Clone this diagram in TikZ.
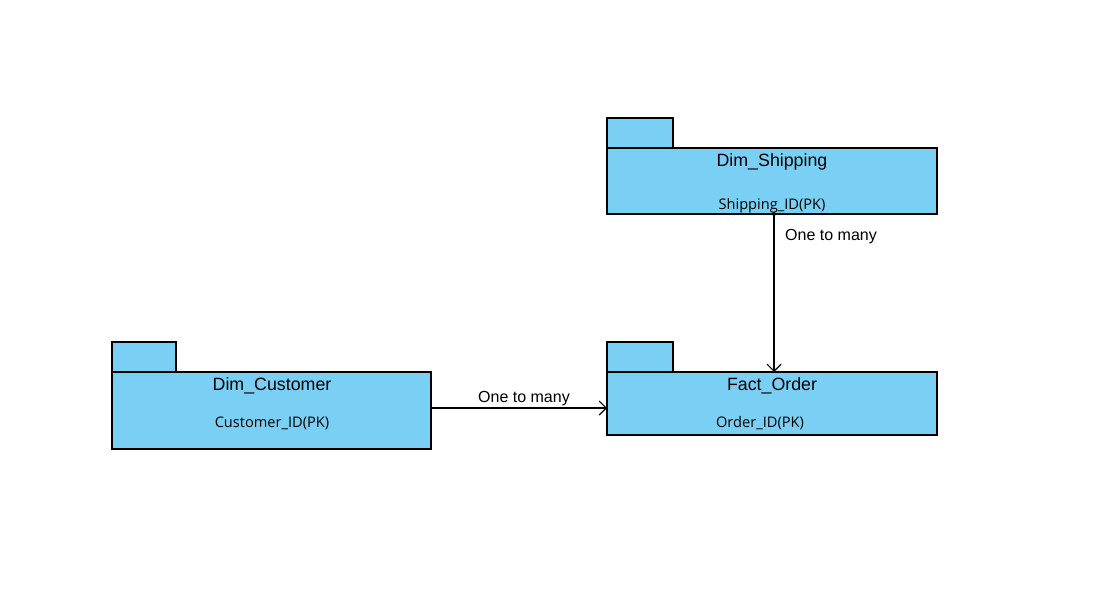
\documentclass[tikz,border=0pt]{standalone}
\usepackage{fontspec}
\setmainfont{Liberation Sans}
\newfontfamily\attrfont{Open Sans}
\usetikzlibrary{arrows.meta}
\definecolor{pkgfill}{HTML}{7ACFF4}
\tikzset{
  pkg/.style={draw=black, fill=pkgfill, line width=1.2pt},
  ttl/.style={font=\fontsize{17.8}{20}\selectfont, inner sep=0pt},
  attr/.style={font=\attrfont\fontsize{14.6}{17}\selectfont, inner sep=0pt},
  lbl/.style={font=\fontsize{16}{19}\selectfont, inner sep=0pt},
  conn/.style={draw=black, line width=1.1pt, -{Straight Barb[length=7pt,width=14pt,line width=1.1pt]}}
}
\begin{document}
\begin{tikzpicture}[x=1pt,y=-1pt]
\useasboundingbox (0,0) rectangle (1111,595);
% Dim_Shipping
\draw[pkg] (607,118) rectangle (673,148);
\draw[pkg] (607,148) rectangle (937,214);
\node[ttl] (shipT) at (772,162) {Dim\_Shipping};
\node[attr] (shipA) at (772,206) {Shipping\_ID(PK)};
\coordinate (shipB) at (774,214);
% Fact_Order
\draw[pkg] (607,342) rectangle (673,372);
\draw[pkg] (607,372) rectangle (937,435);
\node[ttl] (factT) at (772,386) {Fact\_Order};
\node[attr] (factA) at (760,423) {Order\_ID(PK)};
\coordinate (factTop) at (774,372);
\coordinate (factL) at (607,408);
% Dim_Customer
\draw[pkg] (112,342) rectangle (176,372);
\draw[pkg] (112,372) rectangle (431,449);
\node[ttl] (custT) at (272,386) {Dim\_Customer};
\node[attr] (custA) at (272,423) {Customer\_ID(PK)};
\coordinate (custR) at (431,408);
% connectors
\draw[conn] (custR) -- (factL);
\node[lbl] (l1) at (524,399) {One to many};
\draw[conn] (shipB) -- (factTop);
\fill (shipB) circle (2pt);
\node[lbl, anchor=west] (l2) at (785,237) {One to many};
\end{tikzpicture}
\end{document}
